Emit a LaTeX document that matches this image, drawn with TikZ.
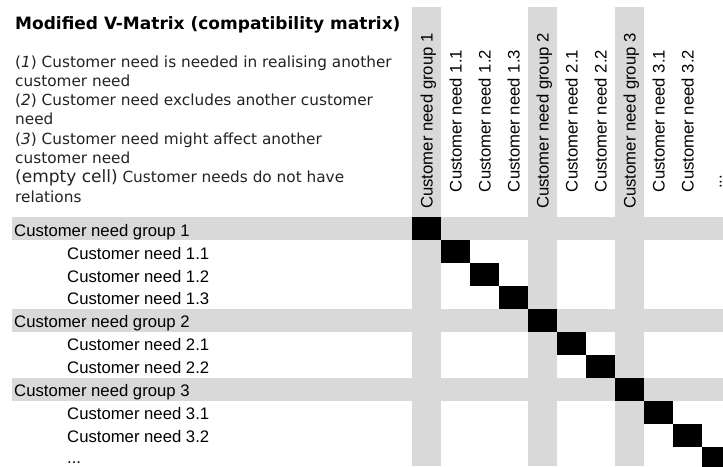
\documentclass[tikz,border=0pt]{standalone}
\usepackage{fontspec}
\newfontfamily\labelfont{Liberation Sans}
\newfontfamily\notefont{DejaVu Sans}
\definecolor{band}{HTML}{D9D9D9}
\definecolor{notetext}{HTML}{222222}

\begin{document}
\begin{tikzpicture}[x=1pt,y=-1pt,
  rowlabel/.style={anchor=base west, inner sep=0pt,
    font=\labelfont\fontsize{16.7}{20}\selectfont},
  collabel/.style={anchor=base, rotate=90, inner sep=0pt,
    font=\labelfont\fontsize{16.7}{20}\selectfont},
  note/.style={anchor=base west, inner sep=0pt, text=notetext,
    font=\notefont\fontsize{15.3}{18}\selectfont},
  titlestyle/.style={anchor=base west, inner sep=0pt,
    font=\notefont\bfseries\fontsize{17}{20}\selectfont},
  cellmark/.style={fill=black},
]
\useasboundingbox (0,0) rectangle (723,466);

% grid geometry
\def\xo{412}   % left edge of the matrix
\def\yo{217.3} % top edge of the matrix
\def\cw{29}    % cell width
\def\ch{22.96} % cell height

\begin{scope}
  \clip (0,0) rectangle (723,466);
  % grey bands for the group rows
  \foreach \i in {0,4,7} {
    \fill[band] (12,\yo+\i*\ch) rectangle (723,\yo+\i*\ch+\ch);
  }
  % grey bands for the group columns
  \foreach \i in {0,4,7} {
    \fill[band] (\xo+\i*\cw,7) rectangle (\xo+\i*\cw+\cw,466);
  }
  % diagonal: every need relates to itself
  \foreach \i in {0,1,2,3,4,5,6,7,8,9,10} {
    \fill[cellmark] (\xo+\i*\cw,\yo+\i*\ch) rectangle (\xo+\i*\cw+\cw,\yo+\i*\ch+\ch);
  }
\end{scope}

% title and legend
\node[titlestyle] (title) at (15,29.5) {Modified V-Matrix (compatibility matrix)};
\node[note] (n1) at (15,67.0)  {(\textit{1}) Customer need is needed in realising another};
\node[note] (n2) at (15,86.3)  {customer need};
\node[note] (n3) at (15,105.6) {(\textit{2}) Customer need excludes another customer};
\node[note] (n4) at (15,124.9) {need};
\node[note] (n5) at (15,144.2) {(\textit{3}) Customer need might affect another};
\node[note] (n6) at (15,163.5) {customer need};
\node[note] (n7) at (15,182.8) {{\fontsize{17}{20}\selectfont(empty cell)} Customer needs do not have};
\node[note] (n8) at (15,202.1) {relations};

% row labels
\foreach \i/\xx/\txt in {0/14/Customer need group 1, 1/67/Customer need 1.1,
    2/67/Customer need 1.2, 3/67/Customer need 1.3, 4/14/Customer need group 2,
    5/67/Customer need 2.1, 6/67/Customer need 2.2, 7/14/Customer need group 3,
    8/67/Customer need 3.1, 9/67/Customer need 3.2} {
  \node[rowlabel] (r\i) at (\xx,\yo+\i*\ch+18.8) {\txt};
}
\node[rowlabel] (r10) at (67,463.5) {...};

% column labels
\foreach \i/\txt in {0/Customer need group 1, 1/Customer need 1.1,
    2/Customer need 1.2, 3/Customer need 1.3, 4/Customer need group 2,
    5/Customer need 2.1, 6/Customer need 2.2, 7/Customer need group 3,
    8/Customer need 3.1, 9/Customer need 3.2} {
  \node[collabel] (c\i) at (\xo+\i*\cw+\cw/2+6,121) {\txt};
}
\node[collabel] (c10) at (721.5,182) {...};
\end{tikzpicture}
\end{document}
